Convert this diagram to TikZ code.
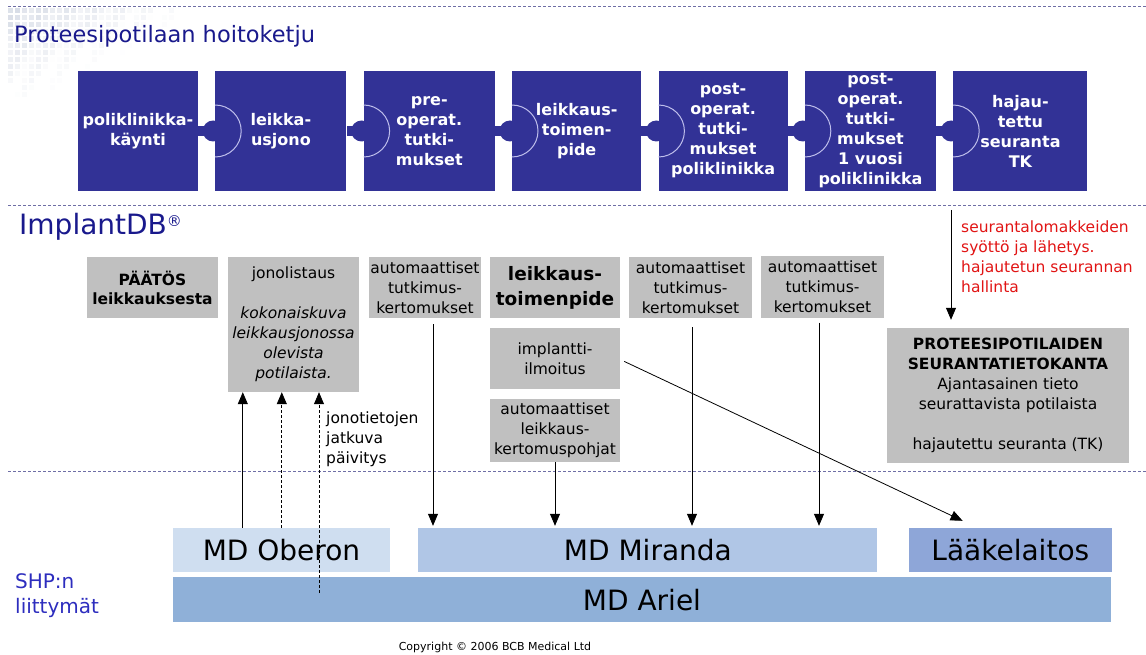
\documentclass[tikz,border=0pt]{standalone}
\usepackage{fontspec}
\setmainfont{DejaVu Sans}
\usepackage{tikz}
\usetikzlibrary{arrows.meta, positioning, calc}

\definecolor{chainblue}{RGB}{50,50,150}
\definecolor{titleblue}{RGB}{25,25,140}
\definecolor{shpblue}{RGB}{45,45,190}
\definecolor{boxgrey}{RGB}{192,192,192}
\definecolor{alertred}{RGB}{225,20,20}
\definecolor{arcline}{RGB}{190,190,235}
\definecolor{sepline}{RGB}{110,110,165}
\definecolor{oberonfill}{RGB}{207,222,240}
\definecolor{mirandafill}{RGB}{176,198,230}
\definecolor{laakefill}{RGB}{142,166,216}
\definecolor{arielfill}{RGB}{143,176,216}
\definecolor{gridgrey}{RGB}{175,185,205}

\newcommand{\setfs}[2]{\fontsize{#1}{#2}\selectfont}

\begin{document}
\begin{tikzpicture}[
    x=1pt, y=-1pt,
    % --- STYLES ---
    stage/.style={fill=chainblue, text=white, font=\setfs{16}{20}\bfseries, align=center, minimum height=120pt, inner sep=0pt},
    greybox/.style={fill=boxgrey, align=center, font=\setfs{15.5}{20}, inner sep=0pt, minimum height=61pt},
    mdbox/.style={font=\setfs{28}{30}, inner sep=0pt, minimum height=44pt},
    separator/.style={draw=sepline, dash pattern=on 3pt off 2pt, line width=0.8pt},
    arrow/.style={-{Triangle[length=12pt,width=10pt]}, line width=0.8pt},
    dashed arrow/.style={arrow, dash pattern=on 3pt off 2pt}
]
    \useasboundingbox (0,0) rectangle (1146,655);

    % faded grid in the corner
    \foreach \i in {0,...,23}{
        \foreach \j in {0,...,12}{
            \pgfmathsetmacro{\op}{max(0, 0.42 - \i/56 - \j/30 + 0.08*sin(\i*97+\j*53))}
            \fill[gridgrey, opacity=\op] (8+7*\i, 8+7*\j) rectangle ++(5,5);
        }
    }

    % ==========================================
    % SEPARATORS AND HEADINGS
    % ==========================================
    \draw[separator] (8,6) -- (1146,6);
    \draw[separator] (8,205) -- (1146,205);
    \draw[separator] (8,471) -- (1146,471);

    \node[anchor=base west, text=titleblue, font=\setfs{22.5}{25}, inner sep=0pt] (title) at (14,43) {Proteesipotilaan hoitoketju};
    \node[anchor=base west, text=titleblue, font=\setfs{28}{30}, inner sep=0pt] (implantdb) at (19,235) {ImplantDB\raisebox{8pt}{\setfs{15}{15}®}};
    \node[anchor=north west, align=left, text=shpblue, font=\setfs{20}{25}, inner sep=0pt] (shp) at (15,573) {SHP:n\\liittymät};
    \node[anchor=base, font=\setfs{11}{12}, inner sep=0pt] (copyright) at (495,650) {Copyright © 2006 BCB Medical Ltd};

    % ==========================================
    % CARE CHAIN (Top Row)
    % ==========================================
    \node[stage, minimum width=120pt] (c1) at (138,131) {poliklinikka-\\käynti};
    \node[stage, minimum width=131pt, right=17pt of c1] (c2) {leikka-\\usjono};
    \node[stage, minimum width=131pt, right=17pt of c2] (c3) {pre-\\operat.\\tutki-\\mukset};
    \node[stage, minimum width=129pt, right=17pt of c3] (c4) {leikkaus-\\toimen-\\pide};
    \node[stage, minimum width=129pt, right=17pt of c4] (c5) {post-\\operat.\\tutki-\\mukset\\poliklinikka};
    \node[stage, minimum width=131pt, right=17pt of c5] (c6) {post-\\operat.\\tutki-\\mukset\\1 vuosi\\poliklinikka};
    \node[stage, minimum width=134pt, right=17pt of c6] (c7) {hajau-\\tettu\\seuranta\\TK};

    % Joints between stages
    \foreach \a/\b in {c1/c2, c2/c3, c3/c4, c4/c5, c5/c6, c6/c7}{
        \fill[chainblue] ($(\a.east)+(0,-5)$) rectangle ($(\b.west)+(0,5)$);
        \fill[chainblue] ($(\b.west)+(-2,0)$) circle (10.5pt);
        \draw[arcline, line width=1pt] ($(\b.west)+(0,-26)$) arc[start angle=90, end angle=-90, radius=26pt];
    }

    % ==========================================
    % IMPLANTDB (Middle Row)
    % ==========================================
    \node[greybox, font=\setfs{15.5}{19}\bfseries, minimum width=131pt] (decision) at (152.5,287.5) {PÄÄTÖS\\leikkauksesta};
    \node[greybox, minimum width=131pt, minimum height=135pt] (queue) at (293.5,324.5) {jonolistaus\\[20pt]\textit{kokonaiskuva}\\\textit{leikkausjonossa}\\\textit{olevista}\\\textit{potilaista.}};
    \node[greybox, minimum width=112pt] (report1) at (425,287.5) {automaattiset\\tutkimus-\\kertomukset};
    \node[greybox, font=\setfs{18.5}{25}\bfseries, minimum width=130pt] (surgery) at (555,287.5) {leikkaus-\\toimenpide};
    \node[greybox, minimum width=130pt, below=10pt of surgery] (implant) {implantti-\\ilmoitus};
    \node[greybox, minimum width=130pt, minimum height=63pt, below=9pt of implant] (template) {automaattiset\\leikkaus-\\kertomuspohjat};
    \node[greybox, minimum width=123pt] (report2) at (690.5,287.5) {automaattiset\\tutkimus-\\kertomukset};
    \node[greybox, minimum width=123pt] (report3) at (822.5,287) {automaattiset\\tutkimus-\\kertomukset};
    \node[greybox, minimum width=242pt, minimum height=135pt] (registry) at (1008,395.5) {\textbf{PROTEESIPOTILAIDEN}\\\textbf{SEURANTATIETOKANTA}\\Ajantasainen tieto\\seurattavista potilaista\\[20pt]hajautettu seuranta (TK)};

    \node[anchor=north west, align=left, text=alertred, font=\setfs{15.5}{20}, inner sep=0pt] (followup) at (961,221) {seurantalomakkeiden\\syöttö ja lähetys.\\hajautetun seurannan\\hallinta};

    % ==========================================
    % HOSPITAL SYSTEMS (Bottom Row)
    % ==========================================
    \node[mdbox, fill=oberonfill, minimum width=217pt] (oberon) at (281.5,550) {MD Oberon};
    \node[mdbox, fill=mirandafill, minimum width=459pt, right=28pt of oberon] (miranda) {MD Miranda};
    \node[mdbox, fill=laakefill, minimum width=203pt, right=31pt of miranda] (laake) {Lääkelaitos};
    \node[mdbox, fill=arielfill, minimum width=938pt, minimum height=45pt, anchor=north west] (ariel) at ($(oberon.south west)+(0,5)$) {MD Ariel};

    % ==========================================
    % ARROWS
    % ==========================================
    % Queue updates up to the list
    \coordinate (upA) at ($(oberon.north west)+(70,0)$);
    \coordinate (upB) at ($(oberon.north west)+(109,0)$);
    \coordinate (upC) at (319,593);
    \draw[arrow] (upA) -- (upA |- queue.south);
    \draw[dashed arrow] (upB) -- (upB |- queue.south);
    \draw[dashed arrow] (upC) -- (upC |- queue.south);
    \node[anchor=north west, align=left, font=\setfs{15.5}{20}, inner sep=0pt] (update) at (326,412) {jonotietojen\\jatkuva\\päivitys};

    % Reports down to Miranda
    \coordinate (dnA) at ($(report1.south)+(8,6)$);
    \coordinate (dnB) at (template.south);
    \coordinate (dnC) at ($(report2.south)+(1.5,9)$);
    \coordinate (dnD) at ($(report3.south)+(-3.5,5)$);
    \foreach \p in {dnA, dnB, dnC, dnD}{
        \draw[arrow, shorten >=2pt] (\p) -- (\p |- miranda.north);
    }

    % Implant notice to the agency
    \draw[arrow] ($(implant.east)+(4,2.5)$) -- ($(laake.north west)+(54,-7)$);

    % Follow-up forms into the registry
    \coordinate (feed) at (951,210);
    \draw[arrow, shorten >=8pt] (feed) -- (feed |- registry.north);

\end{tikzpicture}
\end{document}
